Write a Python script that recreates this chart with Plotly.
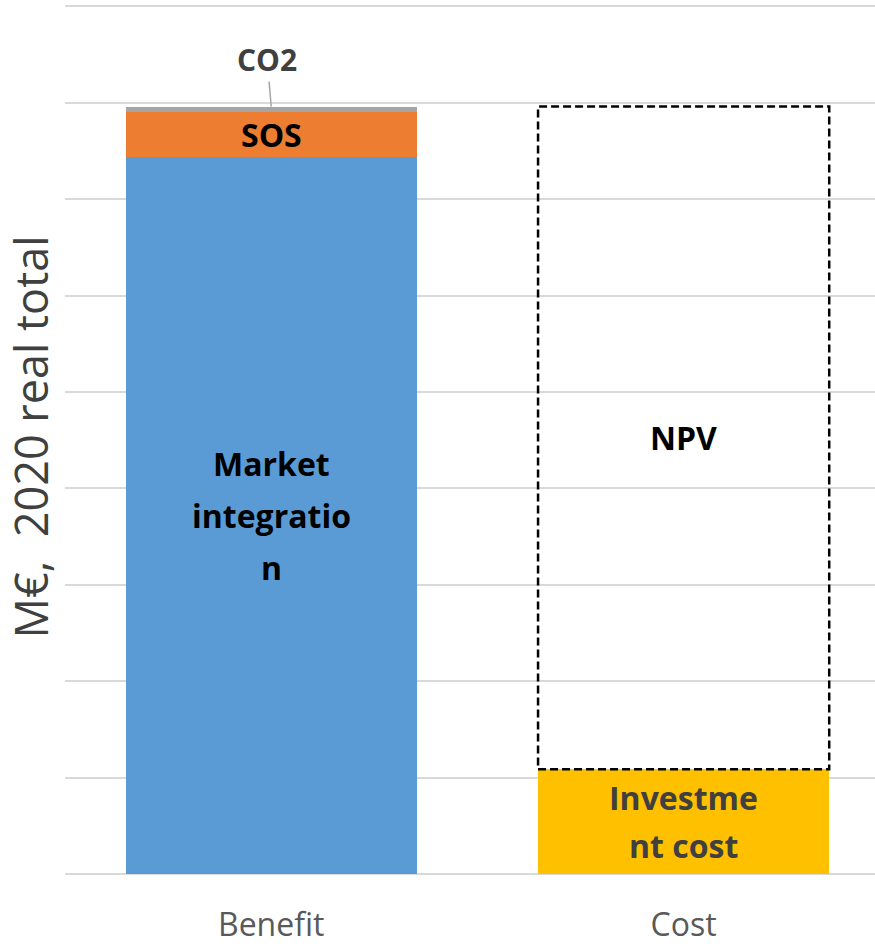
import plotly.graph_objects as go

categories = ["Benefit", "Cost"]
market_integration = 7.44
sos = 0.46
co2 = 0.06
investment_cost = 1.086
npv = market_integration + sos + co2 - investment_cost

bar_w = 0.706
grid_c = "#D9D9D9"
FONT = "Open Sans"

fig = go.Figure()
fig.add_bar(x=[categories[0]], y=[market_integration], name="Market integration",
            marker=dict(color="#5B9BD5", line=dict(width=0)), width=bar_w)
fig.add_bar(x=[categories[0]], y=[sos], name="SOS",
            marker=dict(color="#ED7D31", line=dict(width=0)), width=bar_w)
fig.add_bar(x=[categories[0]], y=[co2], name="CO2",
            marker=dict(color="#A5A5A5", line=dict(width=0)), width=bar_w)
fig.add_bar(x=[categories[1]], y=[investment_cost], name="Investment cost",
            marker=dict(color="#FFC000", line=dict(width=0)), width=bar_w)
fig.add_bar(x=[categories[1]], y=[npv], name="NPV",
            marker=dict(color="rgba(255,255,255,0)", line=dict(width=0)), width=bar_w)

# dashed NPV outline
fig.add_shape(type="rect", xref="x", yref="y",
              x0=1 - bar_w / 2, x1=1 + bar_w / 2,
              y0=investment_cost, y1=investment_cost + npv,
              line=dict(color="black", width=2.5, dash="8px,4px"),
              fillcolor="rgba(0,0,0,0)")

def label(x, y, text, color="black", size=32, yshift=0):
    fig.add_annotation(x=x, y=y, text="<b>" + text + "</b>", showarrow=False,
                       yshift=yshift, font=dict(family=FONT, size=size, color=color))

mi_mid = market_integration / 2
for txt, sh in [("Market", 52), ("integratio", 0), ("n", -52)]:
    label(categories[0], mi_mid, txt, yshift=sh)
label(categories[0], market_integration + sos / 2, "SOS")
label(categories[1], investment_cost + npv / 2, "NPV")
inv_mid = investment_cost / 2
for txt, sh in [("Investme", 24), ("nt cost", -24)]:
    label(categories[1], inv_mid, txt, color="#404040", yshift=sh)

# CO2 callout
fig.add_annotation(x=categories[0], y=market_integration + sos + co2,
                   text="<b>CO2</b>", showarrow=True, arrowhead=0,
                   arrowwidth=1.5, arrowcolor="#A5A5A5", ax=-4, ay=-47,
                   font=dict(family=FONT, size=30, color="#404040"))

fig.update_layout(
    width=875, height=946,
    margin=dict(l=65, r=0, t=0, b=72),
    barmode="stack",
    showlegend=False,
    plot_bgcolor="white", paper_bgcolor="white",
    font=dict(family=FONT),
    xaxis=dict(range=[-0.5, 1.464], showgrid=False, showline=False, zeroline=False,
               tickfont=dict(family=FONT, size=32, color="#595959"),
               ticklabelstandoff=29, automargin=False),
    yaxis=dict(range=[0, 9.066], dtick=1, showticklabels=False,
               showgrid=True, gridcolor=grid_c, gridwidth=2,
               zeroline=True, zerolinecolor=grid_c, zerolinewidth=2,
               title=dict(text="M€,  2020 real total", standoff=5,
                          font=dict(family=FONT, size=45, color="#404040")),
               automargin=False),
)

fig.write_html("out.html")
